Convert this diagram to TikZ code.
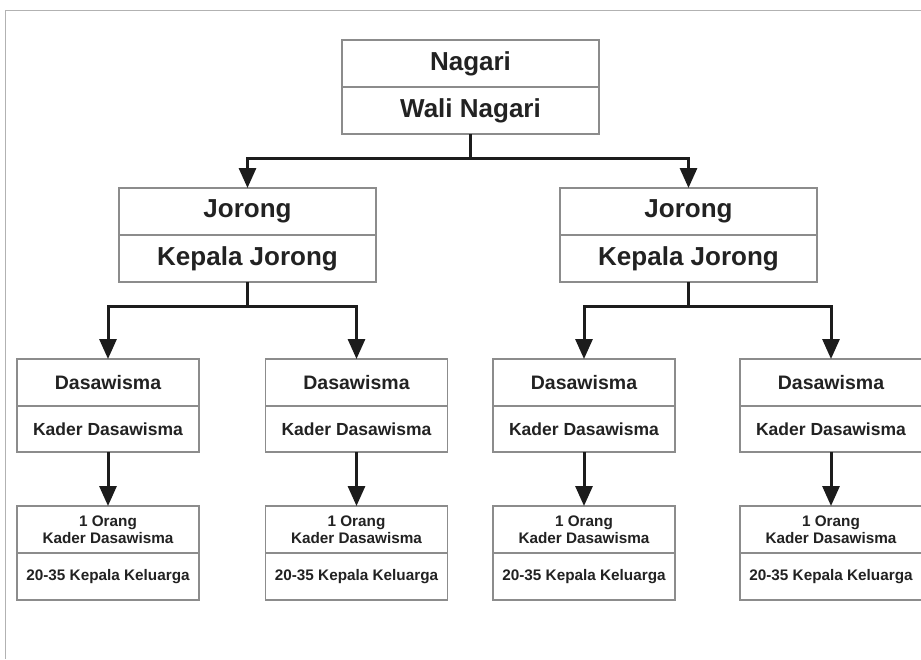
\documentclass[tikz,border=0pt]{standalone}
\usepackage{fontspec}
\setmainfont{Liberation Sans}
\usetikzlibrary{positioning, arrows.meta}
\usepackage{xcolor}
\definecolor{boxline}{HTML}{8C8C8C}
\definecolor{txtcol}{HTML}{222222}
\definecolor{linkcol}{HTML}{1C1C1C}

\begin{document}
\begin{tikzpicture}[
        x=1pt, y=-1pt,
        every node/.style={draw=boxline, line width=1.2pt, rectangle, align=center, text=txtcol, inner sep=0pt, outer sep=0pt},
        bigbox/.style={minimum width=257pt, minimum height=47pt, font=\fontsize{26}{30}\selectfont\bfseries},
        dasbox/.style={minimum width=182pt, minimum height=47pt, font=\fontsize{19.5}{23}\selectfont\bfseries},
        kadbox/.style={minimum width=182pt, minimum height=46pt, font=\fontsize{17.5}{21}\selectfont\bfseries},
        kkbox/.style={minimum width=182pt, minimum height=47pt, font=\fontsize{15.3}{17.5}\selectfont\bfseries},
        link/.style={draw=linkcol, line width=3pt},
        >={Triangle[length=20pt, width=17pt]}
    ]
        \fill[white] (0,0) rectangle (921,659);
        \useasboundingbox (0,0) rectangle (921,659);
        \draw[gray!60, line width=1pt] (921,10) -- (5,10) -- (5,659);

        % Nagari
        \node[bigbox, anchor=north] (nagari) at (470.5,40) {Nagari};
        \node[bigbox, below=0pt of nagari] (wali) {Wali Nagari};

        % Jorong
        \node[bigbox, anchor=north] (jor1) at (247.5,188) {Jorong};
        \node[bigbox, below=0pt of jor1] (kj1) {Kepala Jorong};
        \node[bigbox, anchor=north] (jor2) at (688.5,188) {Jorong};
        \node[bigbox, below=0pt of jor2] (kj2) {Kepala Jorong};

        % Dasawisma
        \node[dasbox, anchor=north] (das1) at (108,359) {Dasawisma};
        \node[kadbox, below=0pt of das1] (kad1) {Kader Dasawisma};
        \node[dasbox, anchor=north] (das2) at (356.5,359) {Dasawisma};
        \node[kadbox, below=0pt of das2] (kad2) {Kader Dasawisma};
        \node[dasbox, anchor=north] (das3) at (584,359) {Dasawisma};
        \node[kadbox, below=0pt of das3] (kad3) {Kader Dasawisma};
        \node[dasbox, anchor=north] (das4) at (831,359) {Dasawisma};
        \node[kadbox, below=0pt of das4] (kad4) {Kader Dasawisma};

        % Kepala Keluarga
        \node[kkbox, anchor=north] (org1) at (108,506) {1 Orang\\Kader Dasawisma};
        \node[kkbox, below=0pt of org1] (kk1) {20-35 Kepala Keluarga};
        \node[kkbox, anchor=north] (org2) at (356.5,506) {1 Orang\\Kader Dasawisma};
        \node[kkbox, below=0pt of org2] (kk2) {20-35 Kepala Keluarga};
        \node[kkbox, anchor=north] (org3) at (584,506) {1 Orang\\Kader Dasawisma};
        \node[kkbox, below=0pt of org3] (kk3) {20-35 Kepala Keluarga};
        \node[kkbox, anchor=north] (org4) at (831,506) {1 Orang\\Kader Dasawisma};
        \node[kkbox, below=0pt of org4] (kk4) {20-35 Kepala Keluarga};

        % connectors
        \coordinate (s0) at ([yshift=-24pt]wali.south);
        \draw[link] (wali.south) -- (s0);
        \draw[link, ->] (s0) -| (jor1.north);
        \draw[link, ->] (s0) -| (jor2.north);

        \coordinate (s1) at ([yshift=-24pt]kj1.south);
        \draw[link] (kj1.south) -- (s1);
        \draw[link, ->] (s1) -| (das1.north);
        \draw[link, ->] (s1) -| (das2.north);

        \coordinate (s2) at ([yshift=-24pt]kj2.south);
        \draw[link] (kj2.south) -- (s2);
        \draw[link, ->] (s2) -| (das3.north);
        \draw[link, ->] (s2) -| (das4.north);

        \draw[link, ->] (kad1.south) -- (org1.north);
        \draw[link, ->] (kad2.south) -- (org2.north);
        \draw[link, ->] (kad3.south) -- (org3.north);
        \draw[link, ->] (kad4.south) -- (org4.north);
    \end{tikzpicture}
\end{document}
